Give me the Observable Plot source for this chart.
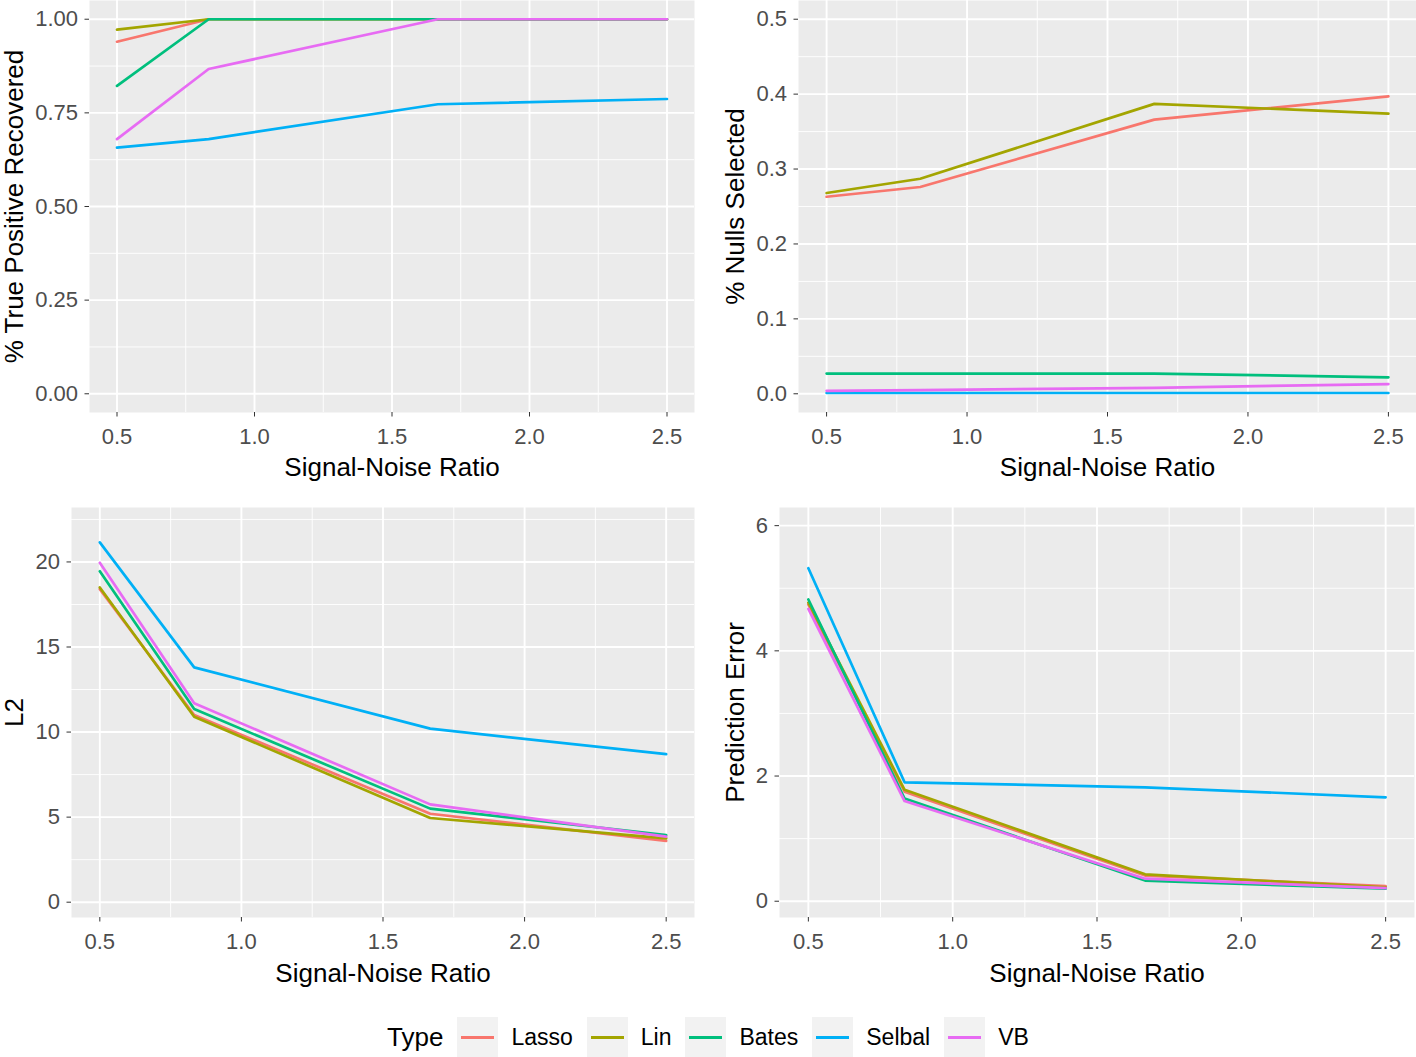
<!DOCTYPE html>
<html>
<head>
<meta charset="utf-8">
<script src="https://cdn.jsdelivr.net/npm/d3@7"></script>
<script src="https://cdn.jsdelivr.net/npm/@observablehq/plot@0.6"></script>
<style>
  html, body { margin: 0; padding: 0; background: #ffffff; }
  #chart { position: relative; width: 1416px; height: 1057px; overflow: hidden; background: #fff;
           font-family: "Liberation Sans", Arial, sans-serif; }
  #chart svg { position: absolute; }
  #legend { position: absolute; top: 1017px; left: 387px; height: 41px; display: flex; align-items: center;
            font-family: "Liberation Sans", Arial, sans-serif; }
  .lg-title { font-size: 26px; color: #000; margin-right: 14px; }
  .lg-key { width: 41px; height: 41px; background: #F2F2F2; position: relative; margin-right: 13px; }
  .lg-key span { position: absolute; left: 4px; right: 4px; top: 19px; height: 3px; }
  .lg-label { font-size: 23px; color: #000; margin-right: 14px; }
</style>
</head>
<body>
<div id="chart"><div id="legend"></div></div>
<script>
// ---------- data ----------
const types = ["Lasso", "Lin", "Bates", "Selbal", "VB"];
const colors = ["#F8766D", "#A3A500", "#00BF7D", "#00B0F6", "#E76BF3"];
const snr = [0.5, 0.8333, 1.6667, 2.5];

// % True Positive Recovered
const tpLasso  = [0.940, 1.000, 1.000, 1.000];
const tpLin    = [0.972, 1.000, 1.000, 1.000];
const tpBates  = [0.822, 1.000, 1.000, 1.000];
const tpSelbal = [0.657, 0.680, 0.773, 0.787];
const tpVB     = [0.680, 0.867, 1.000, 1.000];

// % Nulls Selected
const nuLasso  = [0.263, 0.276, 0.366, 0.397];
const nuLin    = [0.268, 0.287, 0.387, 0.374];
const nuBates  = [0.027, 0.027, 0.027, 0.022];
const nuSelbal = [0.001, 0.001, 0.001, 0.001];
const nuVB     = [0.004, 0.005, 0.008, 0.013];

// L2
const l2Lasso  = [18.40, 11.00, 5.20, 3.60];
const l2Lin    = [18.50, 10.90, 4.95, 3.75];
const l2Bates  = [19.45, 11.35, 5.50, 3.95];
const l2Selbal = [21.15, 13.80, 10.20, 8.70];
const l2VB     = [19.95, 11.70, 5.75, 3.85];

// Prediction Error
const peLasso  = [4.74, 1.75, 0.41, 0.24];
const peLin    = [4.77, 1.78, 0.43, 0.22];
const peBates  = [4.82, 1.64, 0.33, 0.20];
const peSelbal = [5.32, 1.90, 1.82, 1.66];
const peVB     = [4.67, 1.60, 0.36, 0.21];

// ticks
const xTicks = [0.5, 1.0, 1.5, 2.0, 2.5];
const xMinor = [0.75, 1.25, 1.75, 2.25];
const tpTicks = [0, 0.25, 0.5, 0.75, 1.0];
const tpMinor = [0.125, 0.375, 0.625, 0.875];
const nuTicks = [0, 0.1, 0.2, 0.3, 0.4, 0.5];
const nuMinor = [0.05, 0.15, 0.25, 0.35, 0.45];
const l2Ticks = [0, 5, 10, 15, 20];
const l2Minor = [2.5, 7.5, 12.5, 17.5, 22.5];
const peTicks = [0, 2, 4, 6];
const peMinor = [1, 3, 5];

const xTitle = "Signal-Noise Ratio";

// ---------- build ----------
function tidy(series) {
  const rows = [];
  types.forEach((t, i) => snr.forEach((x, j) => rows.push({type: t, snr: x, value: series[i][j]})));
  return rows;
}

const FONT = "Liberation Sans, Arial, sans-serif";

function panel(cfg) {
  const data = tidy(cfg.series);
  const p = Plot.plot({
    width: cfg.width, height: cfg.height,
    marginLeft: cfg.ml, marginRight: cfg.mr, marginTop: cfg.mt, marginBottom: cfg.mb,
    style: {fontFamily: FONT, background: "transparent", overflow: "visible"},
    x: {domain: [0.4, 2.6]},
    y: {domain: cfg.yDomain},
    color: {domain: types, range: colors},
    marks: [
      Plot.frame({fill: "#EBEBEB", stroke: "none"}),
      Plot.ruleX(xMinor, {stroke: "#ffffff", strokeWidth: 0.9}),
      Plot.ruleY(cfg.yMinor, {stroke: "#ffffff", strokeWidth: 0.9}),
      Plot.ruleX(xTicks, {stroke: "#ffffff", strokeWidth: 1.9}),
      Plot.ruleY(cfg.yTicks, {stroke: "#ffffff", strokeWidth: 1.9}),
      Plot.line(data, {x: "snr", y: "value", z: "type", stroke: "type", strokeWidth: 2.7,
                       strokeLinejoin: "round"}),
      Plot.axisX(xTicks, {tickSize: 4.5, tickPadding: 11, fontSize: 22, tickFormat: d3.format(".1f"),
                          stroke: "#333333", fill: "#4D4D4D", label: null}),
      Plot.axisY(cfg.yTicks, {tickSize: 4.5, tickPadding: 7, fontSize: 22, tickFormat: cfg.yFmt,
                              stroke: "#333333", fill: "#4D4D4D", label: null}),
      Plot.text([xTitle], {text: d => d, frameAnchor: "bottom", dy: cfg.titleDy, fontSize: 26, fill: "#000"}),
      Plot.text([cfg.yLabel], {text: d => d, frameAnchor: "left", textAnchor: "middle", rotate: -90,
                               dx: cfg.titleDx, fontSize: 26, fill: "#000"})
    ]
  });
  p.style.left = cfg.left + "px";
  p.style.top = cfg.top + "px";
  document.getElementById("chart").appendChild(p);
}

panel({series: [tpLasso, tpLin, tpBates, tpSelbal, tpVB], yTicks: tpTicks, yMinor: tpMinor,
       yFmt: d3.format(".2f"), yLabel: "% True Positive Recovered", yDomain: [-0.05, 1.05],
       left: 0, top: 0, width: 700, height: 500, ml: 89, mr: 6, mt: 0, mb: 88, titleDx: -75, titleDy: 63});

panel({series: [nuLasso, nuLin, nuBates, nuSelbal, nuVB], yTicks: nuTicks, yMinor: nuMinor,
       yFmt: d3.format(".1f"), yLabel: "% Nulls Selected", yDomain: [-0.025, 0.525],
       left: 700, top: 0, width: 716, height: 500, ml: 98, mr: 0, mt: 0, mb: 88, titleDx: -63, titleDy: 63});

panel({series: [l2Lasso, l2Lin, l2Bates, l2Selbal, l2VB], yTicks: l2Ticks, yMinor: l2Minor,
       yFmt: d3.format("d"), yLabel: "L2", yDomain: [-0.9, 23.2],
       left: 0, top: 500, width: 700, height: 500, ml: 71, mr: 6, mt: 7, mb: 83, titleDx: -57, titleDy: 64});

panel({series: [peLasso, peLin, peBates, peSelbal, peVB], yTicks: peTicks, yMinor: peMinor,
       yFmt: d3.format("d"), yLabel: "Prediction Error", yDomain: [-0.26, 6.29],
       left: 700, top: 500, width: 716, height: 500, ml: 79, mr: 2, mt: 7, mb: 83, titleDx: -44, titleDy: 64});

// ---------- legend ----------
const legend = document.getElementById("legend");
const title = document.createElement("div");
title.className = "lg-title"; title.textContent = "Type";
legend.appendChild(title);
types.forEach((t, i) => {
  const key = document.createElement("div"); key.className = "lg-key";
  const ln = document.createElement("span"); ln.style.background = colors[i];
  key.appendChild(ln); legend.appendChild(key);
  const lab = document.createElement("div"); lab.className = "lg-label"; lab.textContent = t;
  legend.appendChild(lab);
});
</script>
</body>
</html>
